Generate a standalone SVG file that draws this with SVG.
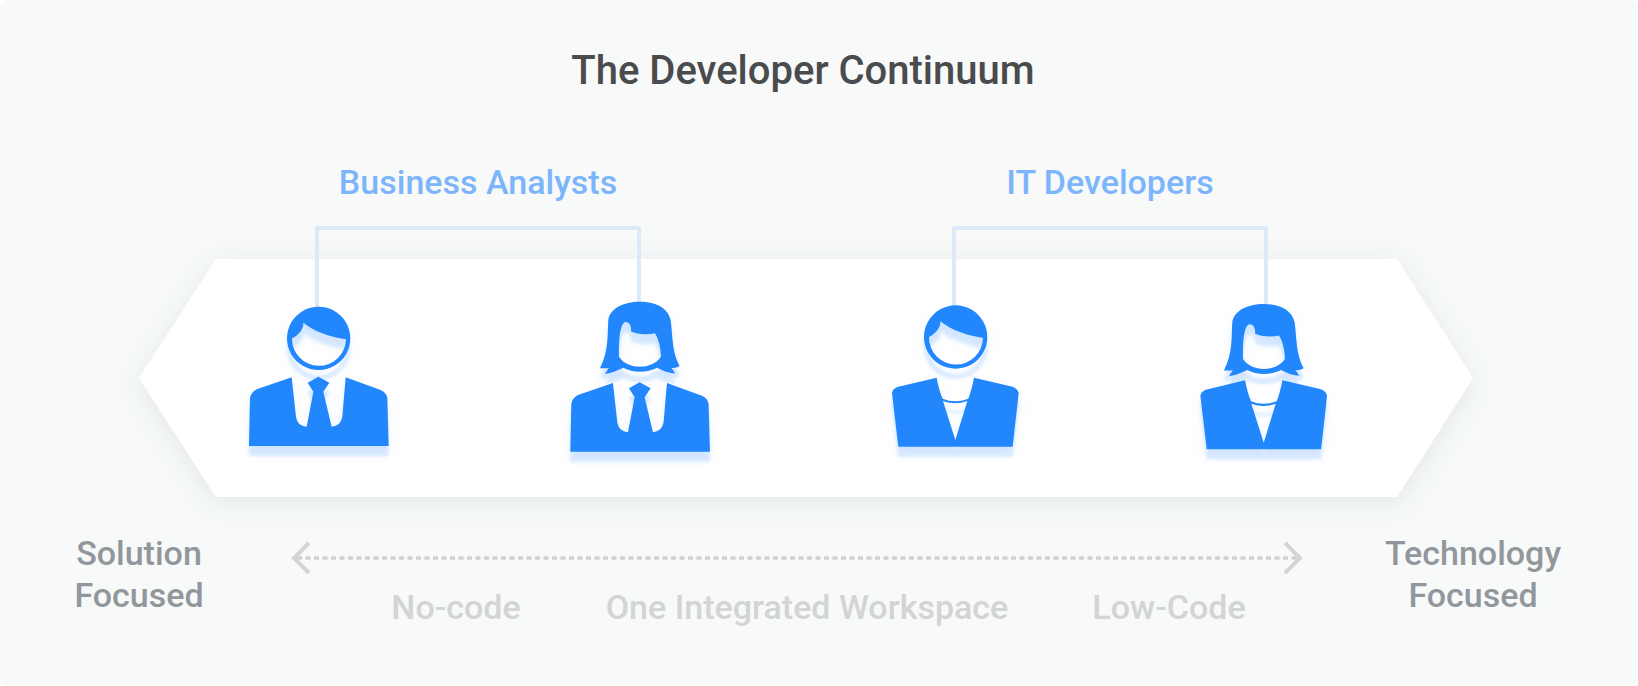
<svg xmlns="http://www.w3.org/2000/svg" width="1638" height="686" viewBox="0 0 1638 686">
<style>
text{font-family:Roboto,"Liberation Sans",sans-serif;text-anchor:middle}
.title{font-size:40px;font-weight:500;fill:#4a4b4d}
.group{font-size:34px;font-weight:500;fill:#7cb5fb}
.side{font-size:34px;font-weight:500;fill:#92979c}
.mode{font-size:34px;font-weight:500;fill:#d2d4d5}
.bracket{fill:none;stroke:#dce9f9;stroke-width:4;stroke-linejoin:round}
.dash{fill:none;stroke:#cfd1d2;stroke-width:3.5;stroke-dasharray:5 3.5}
.head{fill:none;stroke:#d2d4d5;stroke-width:4}
.icon{fill:#2386fc;fill-rule:evenodd;filter:url(#iconShadow)}
</style>
<defs>
<filter id="hexShadow" x="-10%" y="-30%" width="120%" height="160%"><feDropShadow dx="0" dy="5" stdDeviation="13" flood-color="#5a6a7a" flood-opacity=".13"/></filter>
<filter id="iconShadow" x="-20%" y="-20%" width="140%" height="140%">
<feOffset in="SourceAlpha" dy="10" result="a"/><feGaussianBlur in="a" stdDeviation="1.5" result="a1"/>
<feFlood flood-color="#2386fc" flood-opacity=".16"/><feComposite in2="a1" operator="in" result="s1"/>
<feOffset in="SourceAlpha" dy="6" result="b"/><feGaussianBlur in="b" stdDeviation="6" result="b1"/>
<feFlood flood-color="#2386fc" flood-opacity=".08"/><feComposite in2="b1" operator="in" result="s2"/>
<feMerge><feMergeNode in="s2"/><feMergeNode in="s1"/><feMergeNode in="SourceGraphic"/></feMerge>
</filter>
<path id="suit" d="M117 738L120 595Q122 578 140 568L245 532L258 650Q262 678 290 680L310 575L293 548L325 530L358 548L340 575L365 680Q392 678 397 650L407 532L512 570Q530 578 532 595L536 738Z"/>
<path id="maleHead" d="M326 320A95 95 0 1 1 325.9 320ZM246 415A81 81 0 0 0 408 418C360 410 315 396 280 368C282 384 268 404 246 415Z"/>
<path id="femaleHead" d="M1290 305C1240 305 1200 325 1195 360C1192 400 1198 450 1170 505C1180 505 1190 505 1197 503L1185 521C1205 520 1225 510 1240 503C1255 511 1272 515 1290 515C1308 515 1325 511 1342 503C1355 510 1375 520 1396 520L1384 503C1392 505 1400 503 1409 498C1385 455 1388 400 1382 360C1375 325 1340 305 1290 305ZM1245 366C1232 372 1226 405 1227 470C1240 490 1265 500 1290 500C1315 500 1340 490 1353 470C1352 440 1345 415 1335 400C1310 405 1280 403 1263 394C1266 380 1258 364 1245 366Z"/>
<path id="blouse" d="M115 740L96 580Q97 567 112 561L230 533C234 555 240 578 248 596Q285 611 325 596C332 578 338 555 342 533L458 560Q474 566 476 580L458 740ZM249 603L286 720L322 603Q285 617 249 603Z"/>
</defs>
<rect id="background" width="1638" height="686" rx="8" fill="#f8f9f9"/>
<polygon id="band" points="139,378 216,259 1397,259 1473,378 1397,497 216,497" fill="#fff" filter="url(#hexShadow)"/>
<g id="connectors">
<path class="bracket" d="M317 310V228H639V305"/>
<path class="bracket" d="M954 310V228H1266V308"/>
<path class="dash" d="M297 558H1297"/>
<path class="head" d="M309 543L294 558L309 573"/>
<path class="head" d="M1285 543L1300 558L1285 573"/>
</g>
<g id="title"><text class="title" x="803" y="84">The Developer Continuum</text></g>
<g id="label-business-analysts"><text class="group" x="478" y="194">Business Analysts</text></g>
<g id="label-it-developers"><text class="group" x="1110" y="194">IT Developers</text></g>
<g id="person-1" class="icon"><use href="#suit" transform="translate(210 200) scale(.3333)"/><use href="#maleHead" transform="translate(210 200) scale(.3333)"/></g>
<g id="person-2" class="icon"><use href="#suit" transform="translate(531.3 205.7) scale(.3333)"/><use href="#femaleHead" transform="translate(210 200) scale(.3333)"/></g>
<g id="person-3" class="icon"><use href="#blouse" transform="translate(860 200) scale(.3333)"/><use href="#maleHead" transform="translate(847 198.7) scale(.3333)"/></g>
<g id="person-4" class="icon"><use href="#blouse" transform="translate(1168.4 202.7) scale(.3333)"/><use href="#femaleHead" transform="translate(834 202.3) scale(.3333)"/></g>
<g id="solution-focused"><text class="side" x="139" y="565">Solution</text><text class="side" x="139" y="607">Focused</text></g>
<g id="technology-focused"><text class="side" x="1473" y="565">Technology</text><text class="side" x="1473" y="607">Focused</text></g>
<g id="no-code"><text class="mode" x="456" y="619">No-code</text></g>
<g id="workspace"><text class="mode" x="807" y="619">One Integrated Workspace</text></g>
<g id="low-code"><text class="mode" x="1169" y="619">Low-Code</text></g>
</svg>
